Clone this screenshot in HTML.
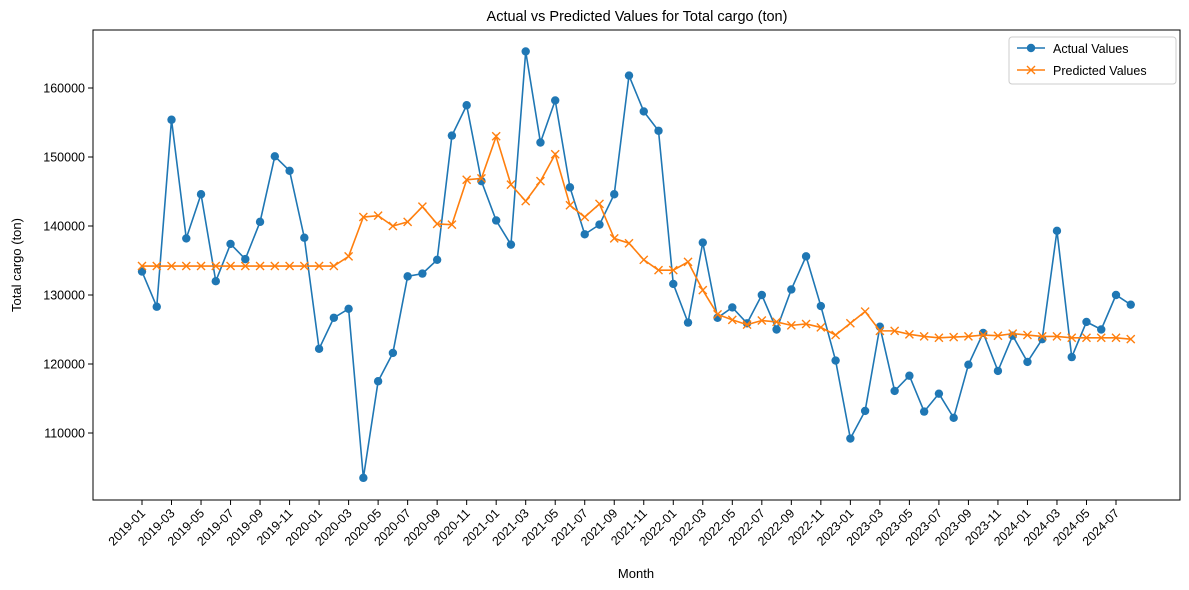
<!DOCTYPE html>
<html><head><meta charset="utf-8"><style>
body{margin:0;background:#fff}
svg{font-family:"Liberation Sans","DejaVu Sans",sans-serif;display:block}
</style></head><body>
<svg id="c" width="1189" height="590"></svg>
<script>
const months=[];for(let i=0;i<68;i++){const y=2019+Math.floor(i/12),m=i%12+1;months.push(y+'-'+(m<10?'0':'')+m);}
const actual=[133400,128300,155400,138200,144600,132000,137400,135200,140600,150100,148000,138300,
122200,126700,128000,103500,117500,121600,132700,133100,135100,153100,157500,146500,
140800,137300,165300,152100,158200,145600,138800,140200,144600,161800,156600,153800,
131600,126000,137600,126700,128200,125900,130000,125000,130800,135600,128400,120500,
109200,113200,125400,116100,118300,113100,115700,112200,119900,124500,119000,124100,
120300,123600,139300,121000,126100,125000,130000,128600];
const predicted=[134200,134200,134200,134200,134200,134200,134200,134200,134200,134200,134200,134200,
134200,134200,135600,141300,141500,140000,140600,142800,140300,140200,146700,146900,
153000,146000,143600,146500,150400,143000,141300,143200,138200,137500,135100,133600,
133600,134800,130700,127200,126400,125700,126300,126100,125600,125800,125300,124200,
125900,127600,124800,124800,124300,124000,123800,123900,124000,124200,124100,124400,
124200,124000,124000,123800,123800,123800,123800,123600];
const yTicks=[110000,120000,130000,140000,150000,160000];
const xTickIdx=[];for(let i=0;i<68;i+=2)xTickIdx.push(i);
const L=93,R=1180,T=30,B=500;
const X=i=>142+i*(1116-142)/66;
const Y=v=>433-(v-110000)*0.0069;
const svg=document.getElementById('c');const NS='http://www.w3.org/2000/svg';
function el(t,a,p){const e=document.createElementNS(NS,t);for(const k in a)e.setAttribute(k,a[k]);(p||svg).appendChild(e);return e;}
let t=el('text',{x:637,y:21,'text-anchor':'middle','font-size':14.5});t.textContent='Actual vs Predicted Values for Total cargo (ton)';


yTicks.forEach(v=>{const y=Y(v);el('line',{x1:L-5,x2:L,y1:y,y2:y,stroke:'#000'});
const tx=el('text',{x:L-8,y:y+4.5,'text-anchor':'end','font-size':12.5});tx.textContent=v;

});
xTickIdx.forEach(i=>{const x=X(i);el('line',{x1:x,x2:x,y1:B,y2:B+5,stroke:'#000'});
const tx=el('text',{x:x+4,y:B+14,'text-anchor':'end','font-size':12.5,transform:`rotate(-45 ${x+4} ${B+14})`});tx.textContent=months[i];

});
t=el('text',{x:636,y:578,'text-anchor':'middle','font-size':13});t.textContent='Month';


t=el('text',{x:21,y:265,'text-anchor':'middle','font-size':13,transform:'rotate(-90 21 265)'});t.textContent='Total cargo (ton)';


function series(vals,color,marker,name){const g=el('g',{});


el('polyline',{points:vals.map((v,i)=>X(i)+','+Y(v)).join(' '),fill:'none',stroke:color,'stroke-width':1.6},g);
vals.forEach((v,i)=>{const x=X(i),y=Y(v);
if(marker==='o')el('circle',{cx:x,cy:y,r:4.2,fill:color},g);
else el('path',{d:`M${x-4} ${y-4}L${x+4} ${y+4}M${x-4} ${y+4}L${x+4} ${y-4}`,stroke:color,'stroke-width':1.4},g);});}
series(actual,'#1f77b4','o','actual-series');
series(predicted,'#ff7f0e','x','predicted-series');
el('rect',{x:L,y:T,width:R-L,height:B-T,fill:'none',stroke:'#000','stroke-width':1});
const lg=el('g',{});


el('rect',{x:1009,y:37,width:167,height:47,rx:3,fill:'#fff',stroke:'#ccc'},lg);
el('line',{x1:1017,x2:1045,y1:48,y2:48,stroke:'#1f77b4','stroke-width':1.6},lg);
el('circle',{cx:1031,cy:48,r:4.2,fill:'#1f77b4'},lg);
t=el('text',{x:1053,y:53,'font-size':12.5},lg);t.textContent='Actual Values';
el('line',{x1:1017,x2:1045,y1:70,y2:70,stroke:'#ff7f0e','stroke-width':1.6},lg);
el('path',{d:'M1027 66L1035 74M1027 74L1035 66',stroke:'#ff7f0e','stroke-width':1.4},lg);
t=el('text',{x:1053,y:75,'font-size':12.5},lg);t.textContent='Predicted Values';
</script>
</body></html>
